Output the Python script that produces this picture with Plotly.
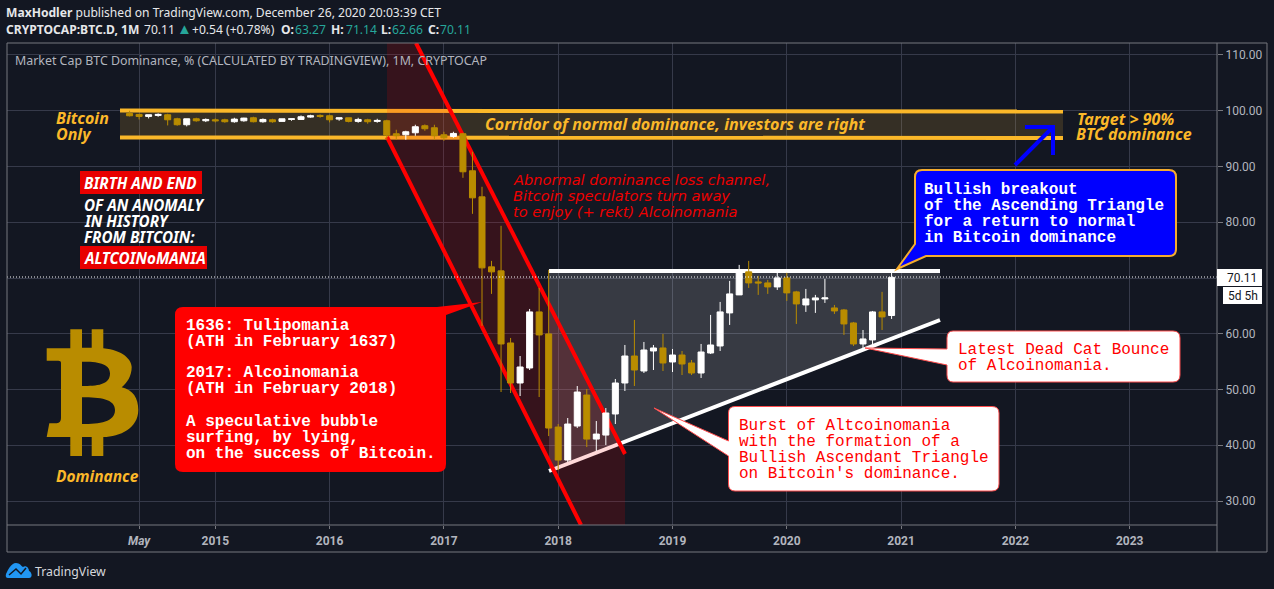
import re
import pandas as pd
import plotly.graph_objects as go

# ---------- data (monthly candles, % dominance) ----------
first_month = "2014-04-01"
opens = [99.52,99.34,98.98,99.16,99.28,98.56,97.49,98.56,98.20,98.38,98.38,98.03,98.20,98.74,98.03,98.38,98.09,98.44,98.44,98.86,99.16,99.10,98.50,98.74,98.09,98.38,98.09,
         98.20,95.87,95.69,96.05,97.31,96.95,95.69,95.39,95.87,89.23,84.56,72.00,71.28,58.35,51.17,53.86,63.92,59.97,43.27,37.35,43.45,49.01,41.11,41.83,45.61,51.17,56.01,
         53.32,56.91,57.45,54.94,56.19,54.76,52.96,56.55,57.81,63.74,66.97,71.10,69.30,69.12,68.40,70.02,67.51,65.17,66.07,66.25,64.63,64.27,61.94,58.17,58.89,63.92,63.27]
highs = [100.00,99.46,99.28,99.52,99.46,98.74,98.56,98.74,98.62,98.62,98.56,98.74,98.74,98.92,98.62,98.56,98.56,98.56,99.16,99.28,99.34,99.28,98.74,98.74,98.74,98.56,98.56,
         98.38,96.59,96.41,97.49,97.55,97.49,96.23,96.23,96.05,92.64,86.36,73.07,79.36,59.25,56.01,64.45,68.22,71.46,43.81,44.89,50.63,50.09,44.35,46.68,51.89,57.99,62.48,
         58.53,57.99,59.97,57.27,56.91,55.30,58.17,63.38,65.71,69.48,72.35,73.07,70.38,69.66,70.92,70.92,67.69,68.04,66.97,69.84,65.17,64.45,62.12,60.68,64.09,67.51,71.14]
lows = [98.98,98.44,98.62,98.92,97.37,97.31,97.19,98.03,97.97,97.91,97.85,97.85,98.03,97.91,97.85,97.85,98.09,98.20,98.38,98.74,98.74,97.91,98.20,97.91,97.85,97.67,97.85,
        94.80,94.80,94.80,95.51,96.41,94.80,94.62,95.15,87.97,81.51,61.40,67.15,49.55,49.37,48.83,53.50,48.65,41.65,35.55,36.99,43.09,39.68,38.96,40.04,43.81,49.73,50.63,
        52.96,53.50,53.32,53.14,52.60,52.60,52.07,56.37,56.91,61.58,66.97,68.22,66.97,67.15,67.86,65.89,61.76,63.92,63.74,65.53,63.56,59.79,57.81,57.27,57.99,60.68,62.66]
closes = [99.10,98.98,99.28,99.34,98.38,97.49,98.56,98.20,98.44,98.20,98.03,98.50,98.68,98.03,98.44,98.03,98.56,98.56,98.92,99.10,98.98,98.38,98.74,98.09,98.44,98.03,98.26,
          95.63,95.51,96.23,97.13,96.77,95.51,95.15,95.93,89.05,84.38,71.82,71.10,58.17,51.17,54.04,63.92,59.79,43.09,37.35,43.81,49.55,41.11,42.01,45.79,51.17,56.01,53.50,
          57.09,57.45,54.76,56.19,54.58,52.96,56.73,57.99,63.92,67.15,71.46,69.12,69.12,68.40,70.02,67.33,65.35,66.25,66.43,66.43,64.09,61.76,58.17,59.07,63.92,63.02,70.11]

price_ticks = [30, 40, 50, 60, 70, 80, 90, 100, 110]
time_ticks = ["2014-05-01","2015-01-01","2016-01-01","2017-01-01","2018-01-01","2019-01-01","2020-01-01","2021-01-01","2022-01-01","2023-01-01"]
time_labels = ["<i>May</i>","2015","2016","2017","2018","2019","2020","2021","2022","2023"]

# ---------- palette ----------
BG = "#131722"; GRID = "#363a4a"; FRAME = "#77787e"; AXTXT = "#b2b5be"
GOLD_C = "#b98c00"; GOLD_T = "#fbb829"; TEAL = "#26a69a"; HEAD = "#e6e7ea"
SANS = "Noto Sans"; MONO = "Liberation Mono"

def midx(d):
    t = pd.Timestamp(d)
    return (t.year - 2015) * 12 + t.month - 1

months = pd.date_range(first_month, periods=len(opens), freq="MS")
xs = [midx(m) for m in months]
tick_x = [midx(d) for d in time_ticks]

# frame in window pixels, and the axis ranges that fill it
L, R, T, B = 7, 1217, 43, 525
X_RANGE = [(L - 215.3) / 9.525, (R - 215.3) / 9.525]
Y_RANGE = [25.7, 112.15]

def px(x): return (x - L) / (R - L)
def py(y): return (B - y) / (B - T)
def dx(x): return X_RANGE[0] + px(x) * (X_RANGE[1] - X_RANGE[0])
def dy(y): return Y_RANGE[0] + py(y) * (Y_RANGE[1] - Y_RANGE[0])

def path(s, fx, fy):
    """SVG-like path in window pixels -> axis or plot coordinates"""
    def conv(m):
        return f"{fx(float(m.group(1))):.5f},{fy(float(m.group(2))):.5f}"
    return re.sub(r"(-?[\d.]+),(-?[\d.]+)", conv, s)

shapes = []
def S(p, fill=None, line=None, w=0, layer="above", dash=None):
    ln = dict(color=line if line else "rgba(0,0,0,0)", width=w)
    if dash:
        ln["dash"] = dash
    if layer == "between":
        d = path(p, dx, dy); xr, yr = "x", "y"
    else:
        d = path(p, px, py); xr, yr = "paper", "paper"
    shapes.append(dict(type="path", path=d, xref=xr, yref=yr, layer=layer,
                       fillcolor=fill if fill else "rgba(0,0,0,0)", line=ln))

anns = []
def TX(x, y, text, size, color, fam=SANS):
    anns.append(dict(xref="paper", yref="paper", x=px(x - 1), y=py(y), text=text, showarrow=False,
                     xanchor="left", yanchor="middle", align="left", borderpad=0,
                     font=dict(family=fam, size=size, color=color)))

# ---------- drawings under the candles ----------
S("M120,111 L1063,111 L1063,138 L120,138 Z", fill="rgba(251,185,60,0.15)", layer="between")
S("M120,110.5 L1063,111.5", line=GOLD_T, w=4, layer="between")
S("M120,137.5 L1063,138", line=GOLD_T, w=4, layer="between")
S("M549,271 L940,271 L940,320 L549,471 Z", fill="rgba(255,255,255,0.153)", layer="between")
S("M549,271 L940,271", line="#ffffff", w=4, layer="between")
S("M549,471 L940,320", line="#ffffff", w=4, layer="between")
S("M387,43 L416,43 L625,454 L625,525 L581,525 L387,137 Z", fill="rgba(255,0,0,0.15)", layer="between")
S("M416,43 L625,454", line="#ff0000", w=4, layer="between")
S("M387,137 L581,525", line="#ff0000", w=4, layer="between")

# bitcoin logo
S("M46.7,348.3 L70.3,348.3 L70.3,329.3 L82,329.3 L82,347.7 L91.7,347.7 L91.7,329.3 L103.3,329.3 L103.3,348.3 "
  "C123,350 131.7,360 131.7,367 C131.7,376 127,383 121.7,387.3 C133,390 138.3,398 138.3,410 C138.3,428 120,437 103.3,437 "
  "L103.3,456 L91.7,456 L91.7,437 L82,437 L82,456 L70.3,456 L70.3,437 L46.7,437 L49.3,423.3 L56.7,423.3 Q61,423 61,418 "
  "L61,363 Q61,360.7 58.3,360.7 L46.7,360.7 Z "
  "M82,361.7 L82,386 C97,386 110,385 110,373.5 C110,363 97,361.7 82,361.7 Z "
  "M82,397.3 L82,424 C100,424 115,422 115,410 C115,399 100,397.3 82,397.3 Z", fill=GOLD_C, layer="between")

# ---------- last price line ----------
S("M7,277 L1217,277", line="#ffffff", w=1, dash="1px,2px")

# ---------- callouts ----------
S("M437,307 L482,302 L446,315 L446,464 Q446,472 438,472 L183,472 Q175,472 175,464 L175,315 Q175,307 183,307 Z", fill="#ff0000")
S("M922,170 L1169,170 Q1176,170 1176,177 L1176,249 Q1176,256 1169,256 L926,256 L897,269 L915,244 L915,177 Q915,170 922,170 Z",
  fill="#0000ff", line="#f5ac2e", w=2)
S("M953,331 L1173,331 Q1180,331 1180,338 L1180,375 Q1180,382 1173,382 L953,382 Q947,382 947,375 L947,365 L865,348 L947,349 L947,338 Q947,331 953,331 Z",
  fill="#ffffff", line="#ff4d4d", w=1)
S("M735,406.5 L992,406.5 Q999,406.5 999,413 L999,484 Q999,491 992,491 L735,491 Q728.5,491 728.5,484 L728.5,456 L654,408 L728.5,441 L728.5,413 Q728.5,406.5 735,406.5 Z",
  fill="#ffffff", line="#ff4d4d", w=1)

# blue arrow
S("M1015,165 L1053,127", line="#0000ff", w=4)
S("M1025,127 L1053,127 L1053,155", line="#0000ff", w=4)

# red label plates
S("M80,171 L202,171 L202,194 L80,194 Z", fill="#e80000")
S("M80,246 L207,246 L207,269 L80,269 Z", fill="#e80000")

# tradingview logo
S("M8,578 Q5,578 6,574 C8,570 11,563 16,563 C20,563 21,566 23,567 C26,565 29,568 29,571 C32,572 33,578 29,578 Z", fill="#2196f3")
S("M9,575 L16,569 L21,574 L26,568", line=BG, w=1.5)

# frame
S("M7,43 L1267,43 L1267,552 L7,552 Z", line=FRAME, w=1)
S("M1217,43 L1217,552", line=FRAME, w=1)
S("M7,525 L1217,525", line=FRAME, w=1)

# last price plates
S("M1217,269 L1262,269 L1262,286 L1217,286 Z", fill="#ffffff")
S("M1223,287 L1262,287 L1262,304 L1223,304 Z", fill="#ffffff")

# ---------- text ----------
TX(6, 12, "<b>MaxHodler</b> published on TradingView.com, December 26, 2020 20:03:39 CET", 12.1, HEAD)
TX(6, 29, "<b>CRYPTOCAP:BTC.D, 1M</b>", 12.1, HEAD)
TX(177, 28, "▲", 15, TEAL)
for x, t, c in [(144, "70.11", HEAD), (192, "+0.54 (+0.78%)", HEAD),
                (281, "<b>O:</b>", HEAD), (295, "63.27", TEAL), (331, "<b>H:</b>", HEAD), (346, "71.14", TEAL),
                (381, "<b>L:</b>", HEAD), (392, "62.66", TEAL), (428, "<b>C:</b>", HEAD), (440, "70.11", TEAL)]:
    TX(x, 29, t, 12.1, c)
TX(15, 61, "Market Cap BTC Dominance, % (CALCULATED BY TRADINGVIEW), 1M, CRYPTOCAP", 12.4, AXTXT)

for x, y, t, s in [(56, 118, "Bitcoin", 16), (56, 134, "Only", 16),
                   (485, 124, "Corridor of normal dominance, investors are right", 16.1),
                   (1077, 119, "Target &gt; 90%", 16), (1076, 134, "BTC dominance", 16),
                   (56, 476, "Dominance", 15.5)]:
    TX(x, y, f"<b><i>{t}</i></b>", s, GOLD_T)

for y, t in [(179, "Abnormal dominance loss channel,"), (195, "Bitcoin speculators turn away"), (211, "to enjoy (+ rekt) Alcoinomania")]:
    TX(513, y, f"<i>{t}</i>", 14.6, "#ee0000", "DejaVu Sans")

for y, t in [(183, "BIRTH AND END"), (205, "OF AN ANOMALY"), (221, "IN HISTORY"), (237, "FROM BITCOIN:"), (258, "ALTCOINoMANIA")]:
    TX(84, y, f"<b><i>{t}</i></b>", 15.2, "#ffffff")

for y, t in [(326, "1636: Tulipomania"), (342, "(ATH in February 1637)"), (373, "2017: Alcoinomania"), (389, "(ATH in February 2018)"),
             (421.5, "A speculative bubble"), (437.5, "surfing, by lying,"), (453.5, "on the success of Bitcoin.")]:
    TX(186, y, f"<b>{t}</b>", 16, "#ffffff", MONO)

for y, t in [(189.5, "Bullish breakout"), (205.5, "of the Ascending Triangle"), (221.5, "for a return to normal"), (237.5, "in Bitcoin dominance")]:
    TX(924, y, f"<b>{t}</b>", 16, "#ffffff", MONO)

for y, t in [(349.5, "Latest Dead Cat Bounce"), (365.5, "of Alcoinomania.")]:
    TX(958, y, t, 16, "#ff0000", MONO)

for y, t in [(425.5, "Burst of Altcoinomania"), (441.5, "with the formation of a"), (457.5, "Bullish Ascendant Triangle"), (473.5, "on Bitcoin's dominance.")]:
    TX(739, y, t, 16, "#ff0000", MONO)

TX(1227, 277.5, "70.11", 12, "#131722", "Roboto")
TX(1228, 295.5, "5d 5h", 12, "#131722", "Roboto")
TX(35, 571, "TradingView", 12.3, "#d6d8dc")

# ---------- chart ----------
fig = go.Figure(go.Candlestick(
    x=xs, open=opens, high=highs, low=lows, close=closes, whiskerwidth=0,
    increasing=dict(line=dict(color="#ffffff", width=1), fillcolor="#ffffff"),
    decreasing=dict(line=dict(color=GOLD_C, width=1), fillcolor=GOLD_C),
    showlegend=False, hoverinfo="skip"))

fig.update_layout(
    width=1274, height=589, autosize=False, boxgap=0.3, boxgroupgap=0.1,
    margin=dict(l=L, r=1274 - R, t=T, b=589 - B, pad=0),
    paper_bgcolor=BG, plot_bgcolor=BG, showlegend=False,
    shapes=shapes, annotations=anns,
    font=dict(family="Roboto", color=AXTXT, size=12),
    xaxis=dict(range=X_RANGE, tickmode="array", tickvals=tick_x, ticktext=time_labels,
               showgrid=True, gridcolor=GRID, gridwidth=1, zeroline=False, showline=False,
               ticks="outside", ticklen=3, tickcolor=FRAME, rangeslider=dict(visible=False), ticklabelstandoff=2,
               tickfont=dict(family="Roboto", size=12, color=AXTXT, weight="bold")),
    yaxis=dict(range=Y_RANGE, side="right", tickmode="array", tickvals=price_ticks, tickformat=".2f",
               showgrid=True, gridcolor=GRID, gridwidth=1, zeroline=False, showline=False,
               ticks="outside", ticklen=5, tickcolor=FRAME,
               tickfont=dict(family="Roboto", size=12, color=AXTXT)),
)
fig.write_html("out.html", config=dict(displayModeBar=False),
               post_script="document.body.style.margin='0';document.body.style.background='#131722';document.body.style.overflow='hidden';")
